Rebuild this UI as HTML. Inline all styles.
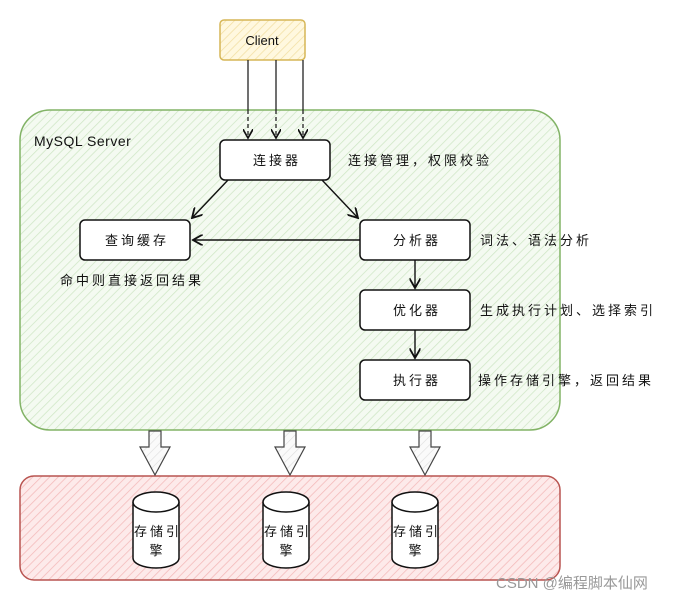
<!DOCTYPE html>
<html><head><meta charset="utf-8"><style>
body{margin:0;background:#fff}
text{font-family:"Liberation Sans","Noto Sans CJK SC",sans-serif;font-size:13px;fill:#111}
.c{letter-spacing:3px}
</style></head><body>
<svg width="681" height="601" viewBox="0 0 681 601" xmlns="http://www.w3.org/2000/svg">
<defs>
<pattern id="hg" width="6" height="6" patternUnits="userSpaceOnUse" patternTransform="rotate(45)"><rect width="6" height="6" fill="#f4faf1"/><line x1="0" y1="0" x2="0" y2="6" stroke="#cfe6c5" stroke-width="1.5"/></pattern>
<pattern id="hr" width="6" height="6" patternUnits="userSpaceOnUse" patternTransform="rotate(45)"><rect width="6" height="6" fill="#fdeaea"/><line x1="0" y1="0" x2="0" y2="6" stroke="#f3b9b9" stroke-width="1.5"/></pattern>
<pattern id="hy" width="6" height="6" patternUnits="userSpaceOnUse" patternTransform="rotate(45)"><rect width="6" height="6" fill="#fff8df"/><line x1="0" y1="0" x2="0" y2="6" stroke="#f2dfa2" stroke-width="1.5"/></pattern>
<pattern id="hw" width="6" height="6" patternUnits="userSpaceOnUse" patternTransform="rotate(45)"><rect width="6" height="6" fill="#fafafa"/><line x1="0" y1="0" x2="0" y2="6" stroke="#ddd" stroke-width="1.2"/></pattern>
<marker id="ah" markerWidth="8" markerHeight="8" refX="7" refY="4" orient="auto"><path d="M0,0 L7,4 L0,8" fill="none" stroke="#111" stroke-width="1.3"/></marker>
</defs>
<rect x="20" y="110" width="540" height="320" rx="30" fill="url(#hg)" stroke="#82b366" stroke-width="1.5"/>
<text x="34" y="146" style="font-size:14px;letter-spacing:0.5px">MySQL Server</text>
<rect x="20" y="476" width="540" height="104" rx="14" fill="url(#hr)" stroke="#b85450" stroke-width="1.5"/>
<rect x="220" y="20" width="85" height="40" rx="4" fill="url(#hy)" stroke="#d6b656" stroke-width="1.5"/>
<text x="262" y="45" text-anchor="middle">Client</text>
<g stroke="#222" stroke-width="1.3">
<line x1="248" y1="60" x2="248" y2="110"/><line x1="276" y1="60" x2="276" y2="110"/><line x1="303" y1="60" x2="303" y2="110"/>
<line x1="248" y1="110" x2="248" y2="138" stroke-dasharray="4 3" marker-end="url(#ah)"/>
<line x1="276" y1="110" x2="276" y2="138" stroke-dasharray="4 3" marker-end="url(#ah)"/>
<line x1="303" y1="110" x2="303" y2="138" stroke-dasharray="4 3" marker-end="url(#ah)"/>
</g>
<g fill="#fff" stroke="#111" stroke-width="1.5">
<rect x="220" y="140" width="110" height="40" rx="5"/>
<rect x="80" y="220" width="110" height="40" rx="5"/>
<rect x="360" y="220" width="110" height="40" rx="5"/>
<rect x="360" y="290" width="110" height="40" rx="5"/>
<rect x="360" y="360" width="110" height="40" rx="5"/>
</g>
<text class="c" x="277" y="165" text-anchor="middle">连接器</text>
<text class="c" x="137" y="245" text-anchor="middle">查询缓存</text>
<text class="c" x="417" y="245" text-anchor="middle">分析器</text>
<text class="c" x="417" y="315" text-anchor="middle">优化器</text>
<text class="c" x="417" y="385" text-anchor="middle">执行器</text>
<text class="c" x="348" y="165">连接管理，权限校验</text>
<text class="c" x="480" y="245">词法、语法分析</text>
<text class="c" x="480" y="315">生成执行计划、选择索引</text>
<text class="c" x="478" y="385">操作存储引擎，返回结果</text>
<text class="c" x="60" y="285">命中则直接返回结果</text>
<g stroke="#111" stroke-width="1.4" fill="none">
<line x1="228" y1="180" x2="192" y2="218" marker-end="url(#ah)"/>
<line x1="322" y1="180" x2="358" y2="218" marker-end="url(#ah)"/>
<line x1="360" y1="240" x2="193" y2="240" marker-end="url(#ah)"/>
<line x1="415" y1="260" x2="415" y2="288" marker-end="url(#ah)"/>
<line x1="415" y1="330" x2="415" y2="358" marker-end="url(#ah)"/>
</g>
<g fill="url(#hw)" stroke="#444" stroke-width="1.2">
<path d="M149,431 h12 v16 h9 l-15,28 l-15,-28 h9 z"/>
<path d="M284,431 h12 v16 h9 l-15,28 l-15,-28 h9 z"/>
<path d="M419,431 h12 v16 h9 l-15,28 l-15,-28 h9 z"/>
</g>
<g fill="#fff" stroke="#111" stroke-width="1.5">
<path d="M133,502 v56 a23,10 0 0 0 46,0 v-56"/><ellipse cx="156" cy="502" rx="23" ry="10"/>
<path d="M263,502 v56 a23,10 0 0 0 46,0 v-56"/><ellipse cx="286" cy="502" rx="23" ry="10"/>
<path d="M392,502 v56 a23,10 0 0 0 46,0 v-56"/><ellipse cx="415" cy="502" rx="23" ry="10"/>
</g>
<text class="c" x="158" y="536" text-anchor="middle">存储引</text><text x="156" y="555" text-anchor="middle">擎</text>
<text class="c" x="288" y="536" text-anchor="middle">存储引</text><text x="286" y="555" text-anchor="middle">擎</text>
<text class="c" x="417" y="536" text-anchor="middle">存储引</text><text x="415" y="555" text-anchor="middle">擎</text>
<text x="496" y="588" style="font-size:15px;fill:#999">CSDN @编程脚本仙网</text>
</svg>
</body></html>
